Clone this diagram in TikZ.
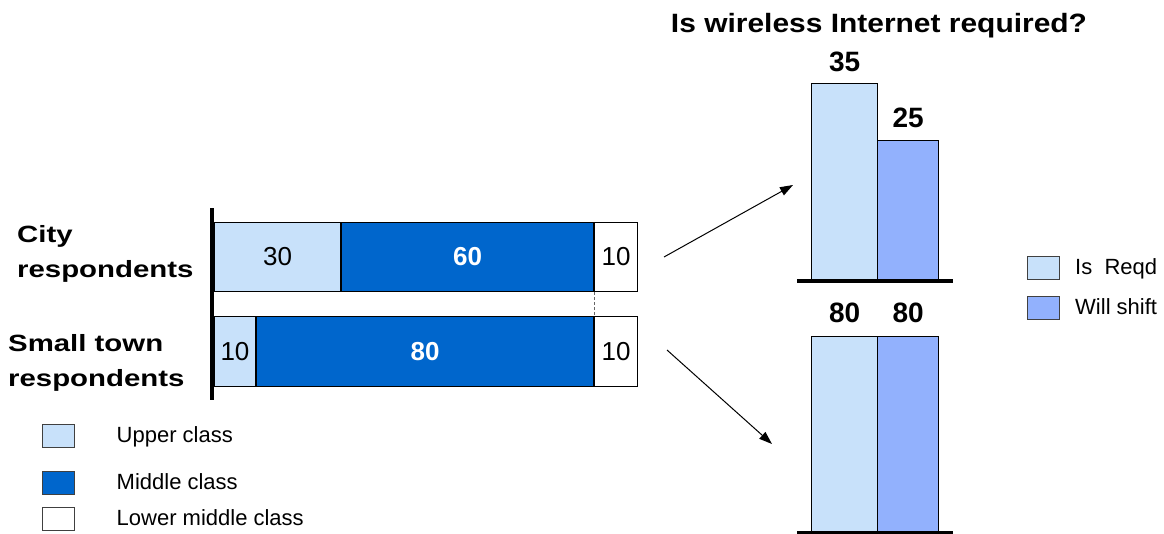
\documentclass[tikz,border=0pt]{standalone}
\usepackage{fontspec}
\setmainfont{Liberation Sans}
\newfontfamily\rowfont[FakeStretch=1.25]{Liberation Sans}
\newfontfamily\headfont[FakeStretch=1.13]{Liberation Sans}
\usetikzlibrary{positioning,arrows.meta}
\definecolor{upperblue}{HTML}{C8E1FA}
\definecolor{middleblue}{HTML}{0066CC}
\definecolor{shiftblue}{HTML}{92B1FD}

\begin{document}
\begin{tikzpicture}[x=1pt, y=-1pt, inner sep=0pt, >={Triangle[length=13pt,width=9pt]},
    seg/.style={draw=black, line width=1pt, minimum height=69pt, font=\fontsize{26}{28}\selectfont},
    segbold/.style={seg, fill=middleblue, text=white, font=\bfseries\fontsize{26}{28}\selectfont},
    col/.style={draw=black, line width=1.2pt, anchor=south west},
    num/.style={font=\bfseries\fontsize{28}{30}\selectfont},
    key/.style={draw=black!75, line width=1pt, minimum width=32pt, minimum height=23pt},
    keytext/.style={font=\fontsize{22}{24}\selectfont, text height=16pt, text depth=4pt, anchor=west},
    rowlabel/.style={font=\rowfont\bfseries\fontsize{23.5}{35}\selectfont, align=left, anchor=west}]

  \useasboundingbox (0,0) rectangle (1164,533);

  % Stacked bars for the respondents
  \node[seg, fill=upperblue, minimum width=126pt, anchor=north west] (c1) at (214,222) {30};
  \node[segbold, minimum width=252pt] (c2) [right=0pt of c1] {60};
  \node[seg, fill=white, minimum width=43pt] (c3) [right=0pt of c2] {10};
  \node[seg, fill=upperblue, minimum width=41pt, minimum height=70pt, anchor=north west] (s1) at (214,316) {10};
  \node[segbold, minimum width=337pt, minimum height=70pt] (s2) [right=0pt of s1] {80};
  \node[seg, fill=white, minimum width=43pt, minimum height=70pt] (s3) [right=0pt of s2] {10};
  \draw[line width=3.5pt] (212,208) -- (212,400);
  \draw[densely dashed, black!60, line width=0.8pt] (c2.south east) -- (s2.north east);

  \node[rowlabel] (city) at (17,253.5) {City\\respondents};
  \node[rowlabel] (town) at (8,362.5) {Small town\\respondents};

  % Legend for the classes
  \node[key, fill=upperblue] (kUpper) at (58,436) {};
  \node[key, fill=middleblue] (kMiddle) at (58,483) {};
  \node[key, fill=white] (kLower) at (58,519) {};
  \node[keytext] (tUpper) [right=42pt of kUpper] {Upper class};
  \node[keytext] (tMiddle) [right=42pt of kMiddle] {Middle class};
  \node[keytext] (tLower) [right=42pt of kLower] {Lower middle class};

  % Columns for the wireless question
  \node[font=\headfont\bfseries\fontsize{26.5}{30}\selectfont, anchor=base] (title) at (879,32) {Is wireless Internet required?};
  \node[col, fill=upperblue, minimum width=66pt, minimum height=196pt] (r1) at (811,280) {};
  \node[col, fill=shiftblue, minimum width=61pt, minimum height=139pt] (r2) at (877,280) {};
  \node[num] (n1) [above=11pt of r1] {35};
  \node[num] (n2) [above=12pt of r2] {25};
  \draw[line width=3.5pt] (797,281) -- (953,281);

  \node[col, fill=upperblue, minimum width=66pt, minimum height=196pt] (t1) at (811,533) {};
  \node[col, fill=shiftblue, minimum width=61pt, minimum height=196pt] (t2) at (877,533) {};
  \node[num] (m1) [above=13pt of t1] {80};
  \node[num] (m2) [above=13pt of t2] {80};
  \draw[line width=3pt] (797,532) -- (953,532);

  \node[key, fill=upperblue] (kReqd) at (1043.5,268) {};
  \node[key, fill=shiftblue] (kShift) at (1043.5,308) {};
  \node[keytext] (tReqd) [right=15pt of kReqd] {Is\ \ Reqd};
  \node[keytext] (tShift) [right=15pt of kShift] {Will shift};

  % Arrows from the bars to the columns
  \coordinate (cityOut) at (664,257);
  \coordinate (cityIn) at (793,185);
  \coordinate (townOut) at (667,350);
  \coordinate (townIn) at (772,444);
  \path[->, line width=1pt]
    (cityOut) edge (cityIn)
    (townOut) edge (townIn);

\end{tikzpicture}
\end{document}
